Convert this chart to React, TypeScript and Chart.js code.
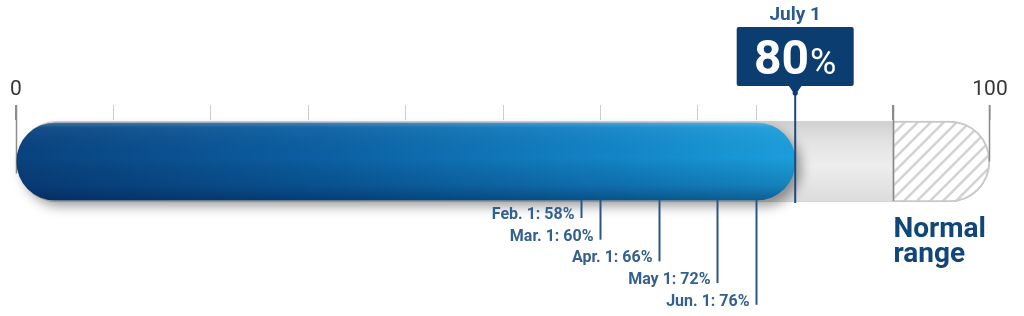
import React, { useEffect, useRef } from 'react';
import { Chart, registerables } from 'chart.js';

Chart.register(...registerables);

// Scale and axis
const scaleMin = 0;
const scaleMax = 100;
const axisTicks = [0, 10, 20, 30, 40, 50, 60, 70, 76, 80, 90, 100];
const axisLabels = [0, 100];

// Current reading
const currentLabel = 'July 1';
const currentValue = 80;

// Earlier readings
const monthLabels = ['Feb. 1', 'Mar. 1', 'Apr. 1', 'May 1', 'Jun. 1'];
const monthValues = [58, 60, 66, 72, 76];

// Normal range band
const normalRange = [90, 100];
const normalLabel = ['Normal', 'range'];

const category = ['Level'];

const FONT = 'Roboto, "Open Sans", "DejaVu Sans", sans-serif';
const BLUE_THICK = 77;
const TRACK_THICK = 81;

function makeHatch(): CanvasPattern | string {
  const size = 13;
  const c = document.createElement('canvas');
  c.width = size;
  c.height = size;
  const g = c.getContext('2d');
  if (!g) return '#f4f4f4';
  g.fillStyle = '#ffffff';
  g.fillRect(0, 0, size, size);
  g.strokeStyle = '#d3d3d3';
  g.lineWidth = 2.6;
  g.lineCap = 'square';
  for (const off of [-size, 0, size]) {
    g.beginPath();
    g.moveTo(off, size);
    g.lineTo(off + size, 0);
    g.stroke();
  }
  return g.createPattern(c, 'repeat') || '#f4f4f4';
}

const blueFill = (c: any) => {
  const chart = c.chart;
  const x = chart.scales?.x;
  if (!x || !chart.chartArea) return '#0d65a8';
  const g = chart.ctx.createLinearGradient(x.getPixelForValue(scaleMin), 0, x.getPixelForValue(currentValue), 0);
  g.addColorStop(0, '#09427f');
  g.addColorStop(0.4, '#0b60a3');
  g.addColorStop(0.78, '#1386c8');
  g.addColorStop(1, '#1b9fdc');
  return g;
};

const shadeFill = (c: any) => {
  const chart = c.chart;
  const y = chart.scales?.y;
  if (!y || !chart.chartArea) return 'rgba(0,0,0,0)';
  const cy = y.getPixelForValue(0);
  const g = chart.ctx.createLinearGradient(0, cy - BLUE_THICK / 2, 0, cy + BLUE_THICK / 2);
  g.addColorStop(0, 'rgba(255,255,255,0.22)');
  g.addColorStop(0.06, 'rgba(255,255,255,0.05)');
  g.addColorStop(0.45, 'rgba(0,0,0,0)');
  g.addColorStop(0.8, 'rgba(0,25,70,0.2)');
  g.addColorStop(1, 'rgba(0,20,60,0.45)');
  return g;
};

const trackFill = (c: any) => {
  const chart = c.chart;
  const y = chart.scales?.y;
  if (!y || !chart.chartArea) return '#e4e4e4';
  const cy = y.getPixelForValue(0);
  const g = chart.ctx.createLinearGradient(0, cy - TRACK_THICK / 2, 0, cy + TRACK_THICK / 2);
  g.addColorStop(0, '#d0d0d0');
  g.addColorStop(0.25, '#e2e2e2');
  g.addColorStop(0.55, '#eeeeee');
  g.addColorStop(1, '#dcdcdc');
  return g;
};

const strongTicks = [scaleMin, normalRange[0], scaleMax];

const levelOverlay = {
  id: 'levelOverlay',
  beforeDatasetsDraw(chart: any) {
    const { ctx } = chart;
    const x = chart.scales.x;
    const cy = chart.scales.y.getPixelForValue(0);
    const px = Math.round(x.getPixelForValue(scaleMin)) + 0.5;
    ctx.save();
    ctx.strokeStyle = '#8d8d8d';
    ctx.lineWidth = 1.5;
    ctx.beginPath();
    ctx.moveTo(px, chart.chartArea.top - 15);
    ctx.lineTo(px, cy + 12);
    ctx.stroke();
    ctx.restore();
  },
  beforeDatasetDraw(chart: any, args: any) {
    if (args.index !== 1) return;
    const { ctx } = chart;
    ctx.save();
    ctx.shadowColor = 'rgba(0,0,0,0.38)';
    ctx.shadowBlur = 12;
    ctx.shadowOffsetX = 6;
    ctx.shadowOffsetY = 6;
  },
  afterDatasetDraw(chart: any, args: any) {
    if (args.index !== 1) return;
    chart.ctx.restore();
  },
  afterDatasetsDraw(chart: any) {
    const { ctx } = chart;
    const x = chart.scales.x;
    const cy = chart.scales.y.getPixelForValue(0);
    const trackBottom = cy + TRACK_THICK / 2;
    const tickTop = chart.chartArea.top - 15;

    ctx.save();
    // range boundaries over the track
    const p90 = Math.round(x.getPixelForValue(normalRange[0])) + 0.5;
    const p100 = Math.round(x.getPixelForValue(normalRange[1])) - 0.5;
    ctx.strokeStyle = '#8a8a8a';
    ctx.lineWidth = 1.5;
    ctx.beginPath();
    ctx.moveTo(p90, tickTop);
    ctx.lineTo(p90, trackBottom - 1);
    ctx.moveTo(p100, tickTop);
    ctx.lineTo(p100, cy);
    ctx.stroke();

    // earlier readings: leader lines and labels
    ctx.strokeStyle = '#2a5687';
    ctx.fillStyle = '#33608f';
    ctx.lineWidth = 2;
    ctx.textAlign = 'right';
    ctx.textBaseline = 'middle';
    ctx.font = `bold 16px ${FONT}`;
    monthValues.forEach((v, i) => {
      const px = Math.round(x.getPixelForValue(v)) + 0.5;
      const bottom = trackBottom + 16 + i * 21.7;
      ctx.beginPath();
      ctx.moveTo(px, trackBottom - 2);
      ctx.lineTo(px, bottom);
      ctx.stroke();
      ctx.fillText(`${monthLabels[i]}: ${v}%`, px - 7, bottom - 3);
    });

    // current reading callout
    const cx = x.getPixelForValue(currentValue);
    const boxW = 117;
    const boxH = 59;
    const boxTop = 27;
    const boxBottom = boxTop + boxH;
    ctx.strokeStyle = '#1d4a7c';
    ctx.lineWidth = 2;
    ctx.beginPath();
    ctx.moveTo(cx, boxBottom + 6);
    ctx.lineTo(cx, trackBottom + 1);
    ctx.stroke();

    ctx.fillStyle = '#0c3d70';
    ctx.beginPath();
    ctx.roundRect(cx - boxW / 2, boxTop, boxW, boxH, 2);
    ctx.fill();
    ctx.beginPath();
    ctx.moveTo(cx - 7, boxBottom - 1);
    ctx.lineTo(cx + 7, boxBottom - 1);
    ctx.lineTo(cx + 1.5, boxBottom + 7);
    ctx.lineTo(cx - 1.5, boxBottom + 7);
    ctx.closePath();
    ctx.fill();
    ctx.beginPath();
    ctx.arc(cx, boxBottom + 7, 2.6, 0, Math.PI * 2);
    ctx.fill();

    ctx.textAlign = 'center';
    ctx.textBaseline = 'alphabetic';
    ctx.fillStyle = '#2b5b8e';
    ctx.font = `bold 19px ${FONT}`;
    ctx.fillText(currentLabel, cx, 20);

    const numText = String(currentValue);
    const numFont = `bold 48px ${FONT}`;
    const pctFont = `400 36px ${FONT}`;
    ctx.font = numFont;
    const wNum = ctx.measureText(numText).width;
    ctx.font = pctFont;
    const wPct = ctx.measureText('%').width;
    const start = cx - (wNum + wPct + 1) / 2;
    ctx.textAlign = 'left';
    ctx.fillStyle = '#ffffff';
    ctx.font = numFont;
    ctx.fillText(numText, start, 74);
    ctx.font = pctFont;
    ctx.fillText('%', start + wNum + 1, 74);

    // normal range label
    ctx.fillStyle = '#104678';
    ctx.font = `bold 28px ${FONT}`;
    ctx.fillText(normalLabel[0], p90, 237);
    ctx.fillText(normalLabel[1], p90, 262);
    ctx.restore();
  },
};

export default function App() {
  const canvasRef = useRef<HTMLCanvasElement | null>(null);

  useEffect(() => {
    const canvas = canvasRef.current;
    if (!canvas) return;
    const hatch = makeHatch();
    const common = { grouped: false, clip: false as any, borderSkipped: false as any };
    const chart = new Chart(canvas, {
      type: 'bar',
      data: {
        labels: category,
        datasets: [
          {
            ...common,
            label: 'shade',
            data: [[scaleMin, currentValue]] as any,
            backgroundColor: shadeFill,
            borderRadius: 40,
            barThickness: BLUE_THICK,
          },
          {
            ...common,
            label: currentLabel,
            data: [[scaleMin, currentValue]] as any,
            backgroundColor: blueFill,
            borderRadius: 40,
            barThickness: BLUE_THICK,
          },
          {
            ...common,
            label: normalLabel.join(' '),
            data: [normalRange] as any,
            backgroundColor: hatch as any,
            borderColor: '#c9c9c9',
            borderWidth: 2,
            borderRadius: { topLeft: 0, bottomLeft: 0, topRight: 41, bottomRight: 41 },
            barThickness: TRACK_THICK,
          },
          {
            ...common,
            label: 'scale',
            data: [[scaleMin, scaleMax]] as any,
            backgroundColor: trackFill,
            borderColor: '#d4d4d4',
            borderWidth: 1,
            borderRadius: 41,
            barThickness: TRACK_THICK,
          },
        ],
      },
      options: {
        indexAxis: 'y',
        responsive: false,
        animation: false,
        events: [],
        layout: { padding: { top: 0, left: 16, right: 34, bottom: 113 } },
        plugins: { legend: { display: false }, tooltip: { enabled: false } },
        scales: {
          x: {
            type: 'linear',
            position: 'top',
            min: scaleMin,
            max: scaleMax,
            afterBuildTicks: (axis: any) => {
              axis.ticks = axisTicks.map((value) => ({ value }));
            },
            afterFit: (axis: any) => {
              axis.height = 120;
            },
            border: { display: false },
            grid: {
              drawOnChartArea: false,
              drawTicks: true,
              tickLength: 15,
              color: (c: any) => (strongTicks.includes(c.tick?.value) ? '#8a8a8a' : '#cdcdcd'),
              lineWidth: (c: any) => (strongTicks.includes(c.tick?.value) ? 1.5 : 1),
            },
            ticks: {
              autoSkip: false,
              maxRotation: 0,
              padding: 3,
              color: '#353535',
              font: { family: FONT, size: 21 },
              callback: (value: any) => (axisLabels.includes(Number(value)) ? String(value) : ''),
            },
          } as any,
          y: { type: 'category', display: false },
        },
      },
      plugins: [levelOverlay],
    });
    return () => chart.destroy();
  }, []);

  return (
    <div style={{ position: 'fixed', left: 0, top: 0, width: 1024, height: 316, background: '#ffffff' }}>
      <canvas ref={canvasRef} width={1024} height={316} style={{ display: 'block' }} />
    </div>
  );
}
